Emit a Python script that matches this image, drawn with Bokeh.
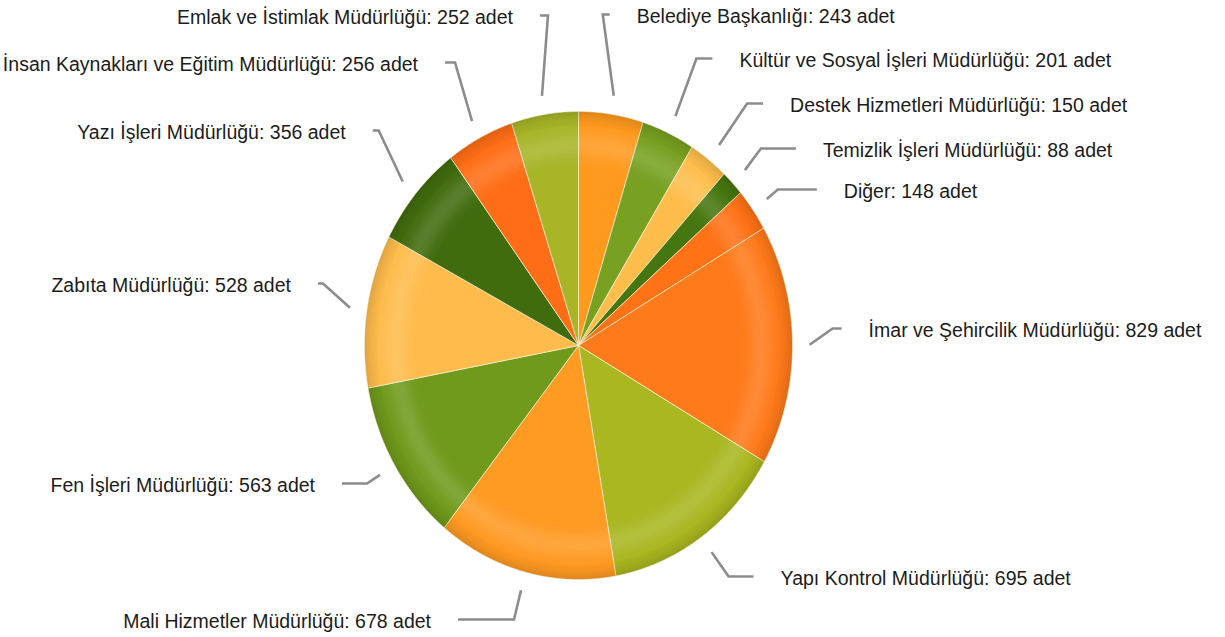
import numpy as np
from bokeh.plotting import figure
from bokeh.models import Range1d, ColumnDataSource
from bokeh.core.properties import value
from bokeh.embed import file_html
from bokeh.resources import INLINE

# ---- data (clockwise from 12 o'clock) ----
categories = [
    "Belediye Başkanlığı",
    "Kültür ve Sosyal İşleri Müdürlüğü",
    "Destek Hizmetleri Müdürlüğü",
    "Temizlik İşleri Müdürlüğü",
    "Diğer",
    "İmar ve Şehircilik Müdürlüğü",
    "Yapı Kontrol Müdürlüğü",
    "Mali Hizmetler Müdürlüğü",
    "Fen İşleri Müdürlüğü",
    "Zabıta Müdürlüğü",
    "Yazı İşleri Müdürlüğü",
    "İnsan Kaynakları ve Eğitim Müdürlüğü",
    "Emlak ve İstimlak Müdürlüğü",
]
counts = [243, 201, 150, 88, 148, 829, 695, 678, 563, 528, 356, 256, 252]
unit = "adet"

# ---- styles / layout ----
colors = ["#FF9A1E", "#78A021", "#FFBE4C", "#46760F", "#FF7216", "#FF7A1A",
          "#A9B720", "#FF9A22", "#6F9A1B", "#FFBC4C", "#416C0E", "#FF6E16", "#A7B527"]
# label y, horizontal offset of elbow from leader start, hook length (sign = side)
label_y = [14, 58, 103, 148, 189, 328, 576, 619, 483, 283, 130, 62, 15]
elbow_dx = [-11, 21, 28, 16, 11, 23, 17, -7, -13, -27, -24, -17, 6]
hook_len = [7, 16, 16, 35, 39, 9, 25, -56, -25, -5, -6, -10, -8]
text_gap = 27

CX, CY, RX, RY = 578.0, 345.0, 214.0, 234.0

W, H = 1225, 637
p = figure(width=W, height=H, output_backend="svg", toolbar_location=None,
           x_range=Range1d(0, W), y_range=Range1d(H, 0),
           min_border=0, background_fill_color="white", border_fill_color="white")
p.axis.visible = False
p.grid.visible = False
p.outline_line_color = None

total = float(sum(counts))
fr = np.array(counts) / total
ends = np.cumsum(fr) * 2 * np.pi
starts = ends - fr * 2 * np.pi
mids = (starts + ends) / 2


def ell(theta, k=1.0):
    return CX + RX * k * np.sin(theta), CY - RY * k * np.cos(theta)


# slices
xs, ys = [], []
for a0, a1 in zip(starts, ends):
    t = np.linspace(a0, a1, max(8, int((a1 - a0) * 90)))
    ex, ey = ell(t)
    xs.append([CX] + list(ex))
    ys.append([CY] + list(ey))
p.patches(xs, ys, fill_color=colors, line_color="#FFF6D8", line_width=0.8, line_alpha=0.8)

# soft 3D shading: smooth radial profile built from thin rings
tt = np.linspace(0, 2 * np.pi, 361)
ks = np.linspace(0.66, 1.0, 35)
rx_, ry_, rc, ra = [], [], [], []
for k0, k1 in zip(ks[:-1], ks[1:]):
    km = (k0 + k1) / 2
    hi = 0.13 * np.exp(-((km - 0.855) / 0.055) ** 2)
    dk = 0.13 * max(0.0, (km - 0.92) / 0.08) ** 1.6
    ox, oy = ell(tt, k1)
    ix, iy = ell(tt[::-1], k0)
    rx_.append(list(ox) + list(ix))
    ry_.append(list(oy) + list(iy))
    if dk > hi:
        rc.append("black"); ra.append(dk)
    else:
        rc.append("white"); ra.append(hi)
p.patches(rx_, ry_, fill_color=rc, fill_alpha=ra, line_color=None)

# leaders
lx, ly = [], []
tx, tyl, talign, texts = [], [], [], []
for i, m in enumerate(mids):
    sx, sy = ell(m, 1.08)
    exx = sx + elbow_dx[i]
    hx = exx + hook_len[i]
    lx.append([sx, exx, hx])
    ly.append([sy, label_y[i], label_y[i]])
    if hook_len[i] >= 0:
        tx.append(hx + text_gap)
        talign.append("left")
    else:
        tx.append(hx - text_gap)
        talign.append("right")
    tyl.append(label_y[i] + 1)
    texts.append(f"{categories[i]}: {counts[i]} {unit}")

p.multi_line(lx, ly, line_color="#8C8C8C", line_width=2.6, line_join="miter")

src = ColumnDataSource(dict(x=tx, y=tyl, t=texts, a=talign))
p.text(x="x", y="y", text="t", text_align="a", source=src,
       text_baseline="middle", text_font=value("Liberation Sans"),
       text_font_size="19.5px", text_color="#1C1C1C")

open("out.html", "w").write(file_html(p, INLINE))
